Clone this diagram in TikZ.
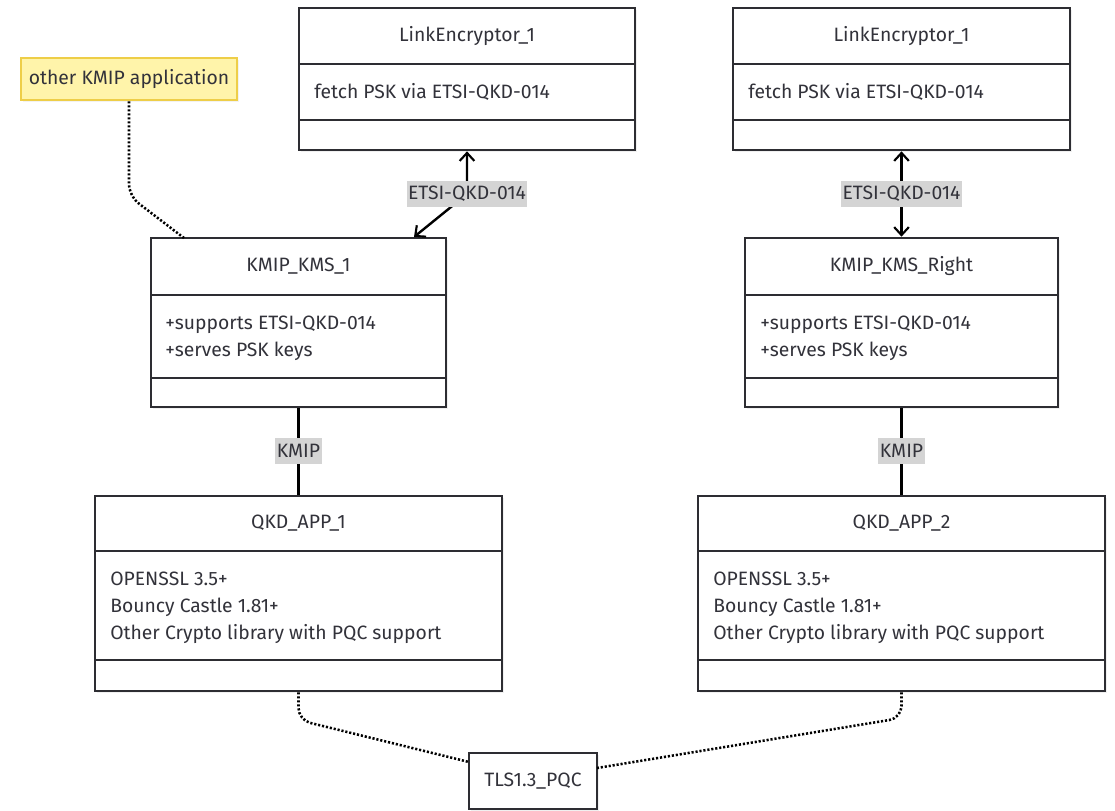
\documentclass[tikz,border=0pt]{standalone}
\usepackage{fontspec}
\setmainfont{Fira Sans}
\usetikzlibrary{arrows.meta,shadows,fit}
\definecolor{ink}{RGB}{45,45,50}
\definecolor{txt}{RGB}{50,50,58}
\definecolor{lblgray}{RGB}{212,212,212}
\definecolor{notefill}{RGB}{255,244,170}
\definecolor{notedraw}{RGB}{238,206,72}
\tikzset{
  classbox/.style={draw=ink, line width=2pt, fill=white, inner sep=0pt,
    drop shadow={opacity=0.12, shadow xshift=1.5pt, shadow yshift=-1.5pt}},
  divider/.style={draw=ink, line width=2pt},
  title/.style={text=txt, font=\fontsize{14.5}{17}\selectfont},
  body/.style={text=txt, font=\fontsize{14.5}{20.3}\selectfont, align=left, anchor=west, inner sep=0pt},
  edgelbl/.style={fill=lblgray, text=txt, font=\fontsize{14.5}{17}\selectfont,
    inner xsep=1pt, inner ysep=0pt, minimum height=19pt},
  link/.style={draw=black, line width=1.8pt},
  dotlink/.style={draw=black, line width=1.9pt, dash pattern=on 1.6pt off 1.4pt, rounded corners=9pt},
  barb/.style={Straight Barb[length=6pt,width=11pt,line width=1.6pt]},
  bothtips/.style={{Straight Barb[length=6pt,width=11pt,line width=1.6pt]}-{Straight Barb[length=6pt,width=11pt,line width=1.6pt]}}
}
\begin{document}
\begin{tikzpicture}[x=0.75pt,y=-0.75pt]
\useasboundingbox (0,0) rectangle (1115,811);

% ---------- link encryptors ----------
\node[classbox, fit={(299,8) (635,150)}] (le1) {};
\draw[divider] (299,64) -- (635,64) (299,120) -- (635,120);
\node[title] (le1t) at (467,36) {LinkEncryptor\_1};
\node[body] (le1b) at (314,92) {fetch PSK via ETSI-QKD-014};

\node[classbox, fit={(733,8) (1070,150)}] (le2) {};
\draw[divider] (733,64) -- (1070,64) (733,120) -- (1070,120);
\node[title] (le2t) at (901.5,36) {LinkEncryptor\_1};
\node[body] (le2b) at (748,92) {fetch PSK via ETSI-QKD-014};

% ---------- key management servers ----------
\node[classbox, fit={(151,238) (446,407)}] (kms1) {};
\draw[divider] (151,295) -- (446,295) (151,378) -- (446,378);
\node[title] (kms1t) at (298.5,266) {KMIP\_KMS\_1};
\node[body] (kms1b) at (165,338) {+supports ETSI-QKD-014\\+serves PSK keys};

\node[classbox, fit={(745,238) (1058,407)}] (kms2) {};
\draw[divider] (745,295) -- (1058,295) (745,378) -- (1058,378);
\node[title] (kms2t) at (901.5,266) {KMIP\_KMS\_Right};
\node[body] (kms2b) at (760,338) {+supports ETSI-QKD-014\\+serves PSK keys};

% ---------- applications ----------
\node[classbox, fit={(95,496) (502,691)}] (app1) {};
\draw[divider] (95,551) -- (502,551) (95,660) -- (502,660);
\node[title] (app1t) at (298.5,523) {QKD\_APP\_1};
\node[body] (app1b) at (110,608) {OPENSSL 3.5+\\Bouncy Castle 1.81+\\Other Crypto library with PQC support};

\node[classbox, fit={(698,496) (1105,691)}] (app2) {};
\draw[divider] (698,551) -- (1105,551) (698,660) -- (1105,660);
\node[title] (app2t) at (901.5,523) {QKD\_APP\_2};
\node[body] (app2b) at (713,608) {OPENSSL 3.5+\\Bouncy Castle 1.81+\\Other Crypto library with PQC support};

% ---------- TLS session ----------
\node[classbox, fit={(469,753) (597,809)}] (tls) {};
\node[title] (tlst) at (tls.center) {TLS1.3\_PQC};

% ---------- note ----------
\node[draw=notedraw, fill=notefill, line width=2pt, inner sep=0pt,
      fit={(21,58) (237,100)},
      drop shadow={opacity=0.10, shadow xshift=1.5pt, shadow yshift=-1.5pt}] (note) {};
\node[title] (notet) at (note.center) {other KMIP application};

% ---------- connectors ----------
\coordinate (e1mid) at (467,194);
\coordinate (kms1in) at (414,237);
\draw[link, bothtips] (le1.south -| e1mid) -- (e1mid) -- (kms1in);
\node[edgelbl] (e1lbl) at (e1mid) {ETSI-QKD-014};

\coordinate (e2mid) at (901.5,194);
\draw[link, bothtips] (le2.south) -- (kms2.north);
\node[edgelbl] (e2lbl) at (e2mid) {ETSI-QKD-014};

\draw[link] (kms1.south) -- (app1.north);
\node[edgelbl] (k1lbl) at (298.5,451) {KMIP};
\draw[link] (kms2.south) -- (app2.north);
\node[edgelbl] (k2lbl) at (901.5,451) {KMIP};

\coordinate (notebend) at (129,196);
\coordinate (kms1note) at (184,238);
\draw[dotlink] (note.south -| notebend) -- (notebend) -- (kms1note);

\coordinate (app1bend) at (298.5,720);
\coordinate (tlsl) at (469,762);
\draw[dotlink] (app1.south) -- (app1bend) -- (tlsl);

\coordinate (app2bend) at (901.5,718);
\coordinate (tlsr) at (597,768);
\draw[dotlink] (app2.south) -- (app2bend) -- (tlsr);
\end{tikzpicture}
\end{document}
